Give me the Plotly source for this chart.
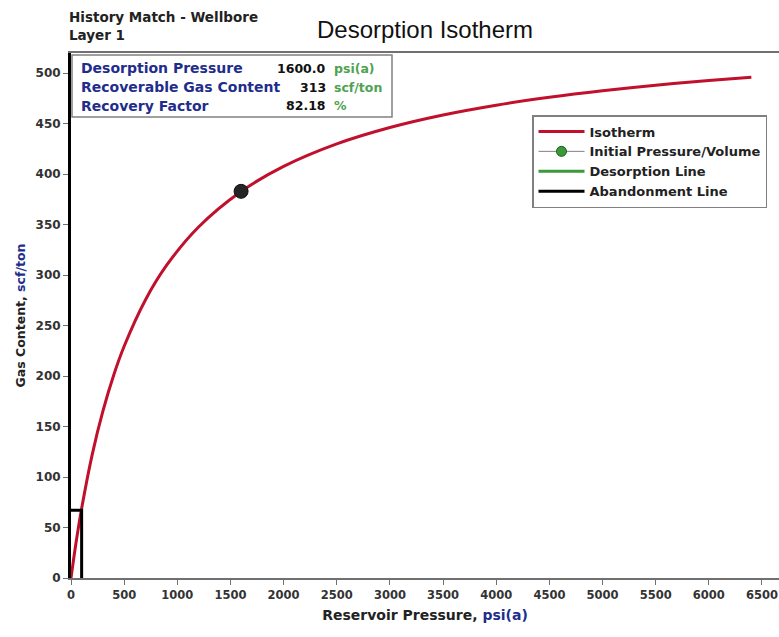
import plotly.graph_objects as go

# Langmuir desorption isotherm (reservoir pressure, psi(a) vs gas content, scf/ton)
pressure = [0, 50, 100, 200, 300, 400, 500, 700, 900, 1200, 1600, 2000,
            2500, 3000, 3500, 4000, 4500, 5000, 5500, 6000, 6400]
gas_content = [0, 36.8, 68.9, 122.5, 165.3, 200.4, 229.5, 275.4, 309.8, 347.7,
               382.9, 407.7, 430.0, 446.2, 458.6, 468.3, 476.1, 482.6, 488.1,
               492.7, 495.9]

# Initial reservoir state
initial_pressure = [1600.0]
initial_content = [383]

# Abandonment condition
abandon_pressure = [0, 100, 100]
abandon_content = [67, 67, 0]

# Summary table
summary_labels = ["Desorption Pressure", "Recoverable Gas Content", "Recovery Factor"]
summary_values = ["1600.0", "313", "82.18"]
summary_units = ["psi(a)", "scf/ton", "%"]

x_ticks = list(range(0, 6501, 500))
y_ticks = list(range(0, 501, 50))

FONT = "DejaVu Sans"
BLUE = "#1f2d8c"
GREEN = "#4fa24f"
RED = "#c0102c"

fig = go.Figure()

fig.add_trace(go.Scatter(
    x=pressure, y=gas_content, mode="lines", name="Isotherm",
    line=dict(color=RED, width=3, shape="spline"),
))
fig.add_trace(go.Scatter(
    x=[None], y=[None], mode="lines+markers", name="Initial Pressure/Volume",
    line=dict(color="#808080", width=1),
    marker=dict(color="#3a9a3a", size=10, line=dict(color="#1d5e1d", width=1)),
))
fig.add_trace(go.Scatter(
    x=[None], y=[None], mode="lines", name="Desorption Line",
    line=dict(color="#3a9a3a", width=3),
))
fig.add_trace(go.Scatter(
    x=abandon_pressure, y=abandon_content, mode="lines", name="Abandonment Line",
    line=dict(color="black", width=3),
))
fig.add_trace(go.Scatter(
    x=initial_pressure, y=initial_content, mode="markers", showlegend=False,
    marker=dict(color="#252525", size=14, line=dict(color="#111", width=1)),
))

L, R, T, B = 71, 0, 53, 59
W, H = 779, 637
pw, ph = W - L - R, H - T - B


def px(x):
    return (x - L) / pw


def py(y):
    return (H - B - y) / ph


annotations = [
    dict(text="<b>History Match - Wellbore</b>", x=px(67), y=py(17)),
    dict(text="<b>Layer 1</b>", x=px(67), y=py(35)),
]
for a in annotations:
    a.update(xref="paper", yref="paper", xanchor="left", yanchor="middle",
             showarrow=False, font=dict(family=FONT, size=13.5, color="#222"))

rows_y = [68, 87, 106]
for lab, val, unit, ry in zip(summary_labels, summary_values, summary_units, rows_y):
    annotations.append(dict(text=f"<b>{lab}</b>", x=px(79), y=py(ry), xanchor="left",
                            font=dict(family=FONT, size=14, color=BLUE)))
    annotations.append(dict(text=f"<b>{val}</b>", x=px(328), y=py(ry), xanchor="right",
                            font=dict(family=FONT, size=12.5, color="#111")))
    annotations.append(dict(text=f"<b>{unit}</b>", x=px(332), y=py(ry), xanchor="left",
                            font=dict(family=FONT, size=12.5, color=GREEN)))
for a in annotations[2:]:
    a.update(xref="paper", yref="paper", yanchor="middle", showarrow=False)

shapes = [dict(type="rect", xref="paper", yref="paper",
               x0=px(72), x1=px(392), y0=py(117), y1=py(55),
               line=dict(color="#808080", width=1.5), fillcolor="white", layer="below")]

fig.update_layout(
    width=W, height=H,
    margin=dict(l=L, r=R, t=T, b=B, autoexpand=False),
    paper_bgcolor="white", plot_bgcolor="white",
    font=dict(family=FONT, color="#333"),
    title=dict(text="Desorption Isotherm", x=0.5, xref="paper", xanchor="center",
               y=1 - 30 / H, yref="container", yanchor="middle",
               font=dict(family="Liberation Sans", size=24, color="#111")),
    annotations=annotations,
    shapes=shapes,
    showlegend=True,
    legend=dict(x=px(532), y=py(115), xanchor="left", yanchor="top",
                bgcolor="white", bordercolor="#808080", borderwidth=1.5,
                font=dict(family=FONT, size=13, color="#222", weight="bold"),
                tracegroupgap=0, itemwidth=46),
    xaxis=dict(range=[0, 6660], tickvals=x_ticks, showgrid=False, zeroline=False,
               showline=True, linecolor="#707070", linewidth=1.5, mirror=True,
               ticks="outside", ticklen=5, tickcolor="#707070",
               ticklabeloverflow="allow",
               tickfont=dict(family=FONT, size=11.5, color="#333", weight="bold"),
               title=dict(text="<b>Reservoir Pressure, <span style='color:#1f2d8c'>psi(a)</span></b>",
                          font=dict(family=FONT, size=14, color="#222"), standoff=10)),
    yaxis=dict(range=[0, 520], tickvals=y_ticks, showgrid=False, zeroline=False,
               showline=True, linecolor="black", linewidth=3,
               ticks="outside", ticklen=5, tickcolor="#707070",
               tickfont=dict(family=FONT, size=12, color="#333", weight="bold"),
               title=dict(text="<b>Gas Content, <span style='color:#1f2d8c'>scf/ton</span></b>",
                          font=dict(family=FONT, size=12.5, color="#222"), standoff=8)),
)

fig.write_html("out.html")
